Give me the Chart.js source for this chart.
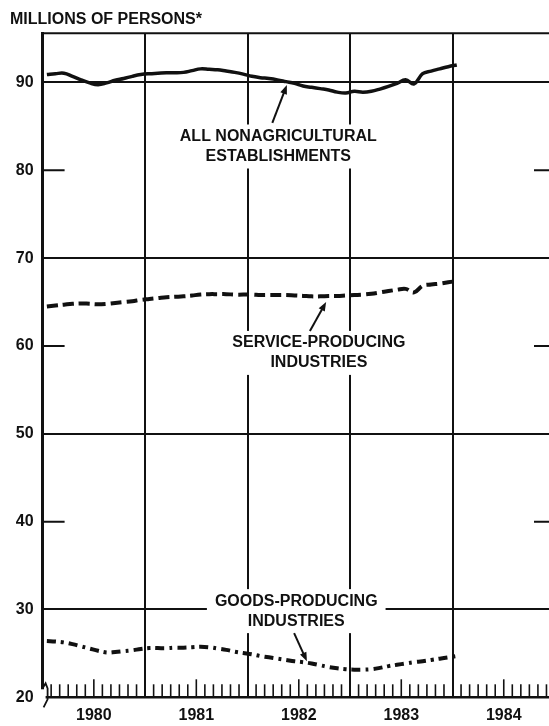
<!DOCTYPE html>
<html>
<head>
<meta charset="utf-8">
<script src="https://cdn.jsdelivr.net/npm/chart.js@4.4.1/dist/chart.umd.min.js"></script>
<style>
  html, body { margin: 0; padding: 0; background: #fff; overflow: hidden; }
  canvas { display: block; }
</style>
</head>
<body>
<canvas id="employmentChart" width="564" height="726"></canvas>
<script>
// monthly values, Jan 1980 .. Jan 1984 (millions of persons)
const yearLabels = ['1980', '1981', '1982', '1983', '1984'];
const yTicks = [20, 30, 40, 50, 60, 70, 80, 90];
const ruledLines = [30, 50, 70, 90];
const edgeTicks = [40, 60, 80];

const nonagricultural = [
  90.9, 91.0, 91.05, 90.7, 90.3, 89.95, 89.75, 89.95, 90.25, 90.45, 90.7, 90.9,
  91.0, 91.05, 91.1, 91.1, 91.15, 91.35, 91.55, 91.5, 91.45, 91.3, 91.15, 90.95,
  90.7, 90.55, 90.45, 90.3, 90.1, 89.9, 89.6, 89.45, 89.3, 89.15, 88.9, 88.8,
  89.0, 88.9, 89.0, 89.25, 89.55, 89.9, 90.3, 89.85, 91.0, 91.3, 91.55, 91.8,
  92.0
];
const serviceProducing = [
  64.5, 64.6, 64.7, 64.8, 64.85, 64.8, 64.75, 64.8, 64.9, 65.0, 65.1, 65.25,
  65.35, 65.45, 65.55, 65.6, 65.65, 65.75, 65.85, 65.9, 65.9, 65.9, 65.85, 65.85,
  65.85, 65.8, 65.8, 65.8, 65.8, 65.75, 65.7, 65.65, 65.65, 65.7, 65.7, 65.75,
  65.8, 65.85, 65.95, 66.1, 66.25, 66.4, 66.5, 66.1, 66.85, 67.0, 67.1, 67.25,
  67.4
];
const goodsProducing = [
  26.4, 26.35, 26.25, 26.05, 25.8, 25.55, 25.3, 25.1, 25.15, 25.25, 25.35, 25.5,
  25.6, 25.6, 25.6, 25.65, 25.65, 25.7, 25.75, 25.7, 25.55, 25.4, 25.2, 25.05,
  24.9, 24.7, 24.55, 24.4, 24.25, 24.1, 24.0, 23.85, 23.65, 23.45, 23.3, 23.2,
  23.15, 23.15, 23.2, 23.35, 23.55, 23.7, 23.85, 24.0, 24.1, 24.25, 24.4, 24.55,
  24.7
];

const ink = '#111';
const fontFamily = '"Liberation Sans", Arial, sans-serif';

// plot each month at its middle
const toPoints = arr => arr.map((v, i) => ({ x: i + 0.5, y: v }));
const monthTicks = Array.from({ length: 61 }, (_, i) => i);

// labels placed in data units (month, value)
const notes = [
  { lines: ['ALL NONAGRICULTURAL', 'ESTABLISHMENTS'], x: 27.6, y: 83.85,
    arrow: [26.9, 85.4, 28.6, 89.7] },
  { lines: ['SERVICE-PRODUCING', 'INDUSTRIES'], x: 32.35, y: 60.35,
    arrow: [31.3, 61.7, 33.2, 65.0] },
  { lines: ['GOODS-PRODUCING', 'INDUSTRIES'], x: 29.7, y: 30.95,
    arrow: [29.45, 27.3, 30.95, 24.1] }
];

function drawArrow(ctx, x1, y1, x2, y2) {
  const ang = Math.atan2(y2 - y1, x2 - x1);
  const len = 9, half = 3.5;
  ctx.lineWidth = 2;
  ctx.beginPath();
  ctx.moveTo(x1, y1);
  ctx.lineTo(x2 - Math.cos(ang) * len * 0.6, y2 - Math.sin(ang) * len * 0.6);
  ctx.stroke();
  ctx.beginPath();
  ctx.moveTo(x2, y2);
  ctx.lineTo(x2 - Math.cos(ang) * len + Math.sin(ang) * half, y2 - Math.sin(ang) * len - Math.cos(ang) * half);
  ctx.lineTo(x2 - Math.cos(ang) * len - Math.sin(ang) * half, y2 - Math.sin(ang) * len + Math.cos(ang) * half);
  ctx.closePath();
  ctx.fill();
}

const chartDecor = {
  id: 'chartDecor',
  afterDatasetsDraw(chart) {
    const { ctx, chartArea: a } = chart;
    const x = chart.scales.x, y = chart.scales.y;
    ctx.save();
    ctx.strokeStyle = ink;
    ctx.fillStyle = ink;

    // top frame
    ctx.lineWidth = 2;
    ctx.beginPath();
    ctx.moveTo(a.left, a.top);
    ctx.lineTo(a.right, a.top);
    ctx.stroke();

    // month ticks standing on the base line
    ctx.lineWidth = 1.6;
    monthTicks.forEach(m => {
      if (m % 12 === 0) return;
      const px = x.getPixelForValue(m);
      const h = m % 12 === 6 ? 18 : 13;
      ctx.beginPath();
      ctx.moveTo(px, a.bottom);
      ctx.lineTo(px, a.bottom - h);
      ctx.stroke();
    });

    // short ticks at both sides
    ctx.lineWidth = 2;
    edgeTicks.forEach(v => {
      const py = y.getPixelForValue(v);
      ctx.beginPath();
      ctx.moveTo(a.left, py); ctx.lineTo(a.left + 22, py);
      ctx.moveTo(a.right - 21, py); ctx.lineTo(a.right, py);
      ctx.stroke();
    });

    // axis break mark
    ctx.fillStyle = '#fff';
    ctx.fillRect(a.left - 3, a.bottom - 8, 6, 12);
    ctx.fillStyle = ink;
    ctx.lineWidth = 1.8;
    ctx.beginPath();
    ctx.moveTo(a.left, a.bottom - 9);
    ctx.lineTo(a.left + 3, a.bottom - 14);
    ctx.lineTo(a.left + 5, a.bottom - 9);
    ctx.lineTo(a.left + 5, a.bottom + 2);
    ctx.lineTo(a.left + 1, a.bottom + 10);
    ctx.stroke();

    // notes with white backing
    ctx.font = 'bold 16px ' + fontFamily;
    ctx.textAlign = 'center';
    ctx.textBaseline = 'middle';
    notes.forEach(n => {
      const cx = x.getPixelForValue(n.x);
      const cy = y.getPixelForValue(n.y);
      const w = Math.max(...n.lines.map(t => ctx.measureText(t).width)) + 16;
      const h = n.lines.length * 20 + 4;
      ctx.fillStyle = '#fff';
      ctx.fillRect(cx - w / 2, cy - 12, w, h);
      ctx.fillStyle = ink;
      n.lines.forEach((t, i) => ctx.fillText(t, cx, cy + i * 20));
      const [ax1, ay1, ax2, ay2] = n.arrow;
      drawArrow(ctx, x.getPixelForValue(ax1), y.getPixelForValue(ay1),
                x.getPixelForValue(ax2), y.getPixelForValue(ay2));
    });

    // axis title
    ctx.textAlign = 'left';
    ctx.textBaseline = 'alphabetic';
    ctx.fillText('MILLIONS OF PERSONS*', 10, 24);
    ctx.restore();
  }
};

const ctx1 = document.getElementById('employmentChart').getContext('2d');
const employmentChart = new Chart(ctx1, {
  type: 'line',
  data: {
    datasets: [
      {
        label: 'All nonagricultural establishments',
        data: toPoints(nonagricultural),
        borderColor: ink,
        borderWidth: 3.5,
        tension: 0.4,
        pointRadius: 0
      },
      {
        label: 'Service-producing industries',
        data: toPoints(serviceProducing),
        borderColor: ink,
        borderWidth: 4,
        borderDash: [11, 5],
        tension: 0.4,
        pointRadius: 0
      },
      {
        label: 'Goods-producing industries',
        data: toPoints(goodsProducing),
        borderColor: ink,
        borderWidth: 4,
        borderDash: [9, 5, 3, 5],
        tension: 0.4,
        pointRadius: 0
      }
    ]
  },
  options: {
    responsive: false,
    animation: false,
    layout: { padding: { top: 33.3, right: 0, left: 0, bottom: 0 } },
    plugins: {
      legend: { display: false },
      tooltip: { enabled: false }
    },
    scales: {
      x: {
        type: 'linear',
        min: 0,
        max: 60,
        afterBuildTicks: s => { s.ticks = monthTicks.map(v => ({ value: v })); },
        afterFit: s => { s.height = 28.7; },
        grid: {
          color: c => (c.tick && c.tick.value % 12 === 0 && c.tick.value > 0 && c.tick.value < 60) ? ink : 'rgba(0,0,0,0)',
          lineWidth: 2,
          drawTicks: false
        },
        border: { color: ink, width: 2.5 },
        ticks: {
          autoSkip: false,
          maxRotation: 0,
          padding: 9,
          color: ink,
          font: { family: fontFamily, size: 16, weight: 'bold' },
          callback: v => (v % 12 === 6 ? yearLabels[(v - 6) / 12] : '')
        }
      },
      y: {
        min: 20,
        max: 95.6,
        afterBuildTicks: s => { s.ticks = yTicks.map(v => ({ value: v })); },
        afterFit: s => { s.width = 42.6; },
        grid: {
          color: c => (c.tick && ruledLines.includes(c.tick.value)) ? ink : 'rgba(0,0,0,0)',
          lineWidth: 2,
          drawTicks: false
        },
        border: { color: ink, width: 3 },
        ticks: {
          padding: 9,
          color: ink,
          font: { family: fontFamily, size: 16, weight: 'bold' }
        }
      }
    }
  },
  plugins: [chartDecor]
});
</script>
</body>
</html>
